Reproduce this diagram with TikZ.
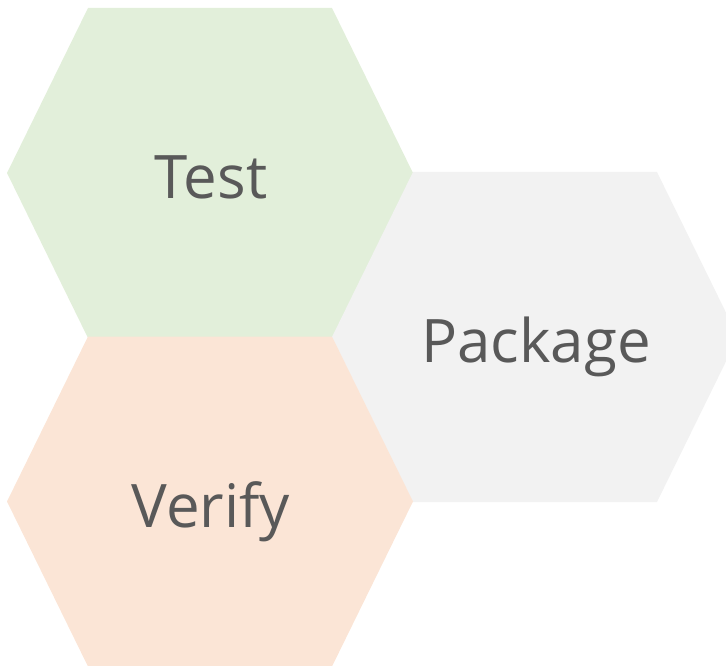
\documentclass[tikz,border=0pt]{standalone}
\usepackage{fontspec}
\setmainfont{Open Sans}
\definecolor{testgreen}{HTML}{E2EFDA}
\definecolor{pkggray}{HTML}{F2F2F2}
\definecolor{verifypeach}{HTML}{FBE5D6}
\definecolor{labelgray}{HTML}{595959}
\begin{document}
\begin{tikzpicture}[x=1pt,y=-1pt,
	hexlabel/.style={text=labelgray, font=\fontsize{60}{70}\selectfont, inner sep=0, anchor=base}]
	\useasboundingbox (0,0) rectangle (726,666);
	\clip (0,0) rectangle (726,666);
	\foreach \cx/\cy/\col in {210/173/testgreen, 535/337/pkggray, 210/501.5/verifypeach} {
		\fill [\col] (\cx-122,\cy-165) -- (\cx+122,\cy-165) -- (\cx+203,\cy) -- (\cx+122,\cy+165) -- (\cx-122,\cy+165) -- (\cx-203,\cy) -- cycle;
	}
	\node [hexlabel] (test) at (211,198) {Test};
	\node [hexlabel] (package) at (536,362) {Package};
	\node [hexlabel] (verify) at (211,527) {Verify};
\end{tikzpicture}
\end{document}
